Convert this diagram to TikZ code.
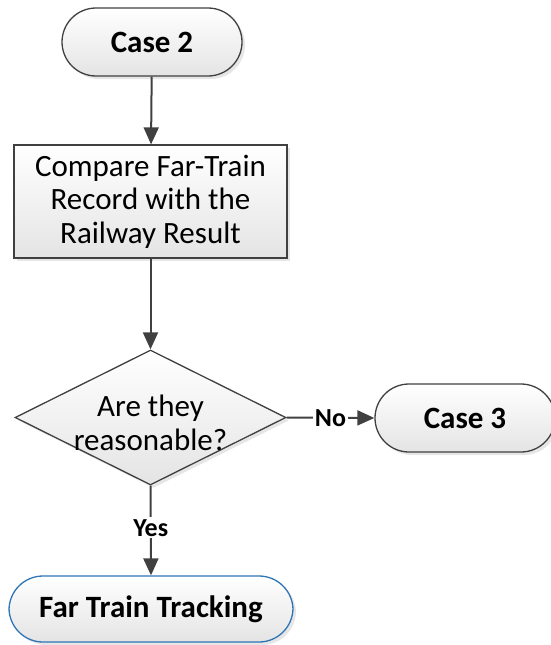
\documentclass[tikz,border=0pt]{standalone}
\usepackage{fontspec}
\setmainfont{Carlito}
\usetikzlibrary{shapes.geometric,arrows.meta,shadows}

\definecolor{edgegray}{RGB}{64,64,64}
\definecolor{fillgray}{RGB}{228,228,228}
\definecolor{termblue}{RGB}{46,117,182}

\tikzset{
  shade/.style={top color=white, bottom color=fillgray,
    drop shadow={opacity=0.2, shadow xshift=3pt, shadow yshift=-3pt}},
  terminal/.style={shade, draw=edgegray, line width=1.3pt, rounded corners=34pt,
    minimum width=180pt, minimum height=68pt, inner sep=0pt,
    font=\fontsize{31}{34}\selectfont\bfseries},
  process/.style={shade, draw=edgegray, line width=1.3pt,
    minimum width=273pt, minimum height=113pt, inner sep=0pt, align=center,
    font=\fontsize{31}{33.5}\selectfont},
  decision/.style={shade, draw=edgegray, line width=1.3pt, diamond,
    minimum width=271pt, minimum height=135pt, inner sep=0pt},
  plain/.style={align=center, inner sep=0pt, font=\fontsize{31}{34}\selectfont},
  flow/.style={draw=edgegray, line width=2pt,
    -{Triangle[length=17pt,width=15pt]}},
  branch/.style={fill=white, inner sep=2pt, font=\fontsize{26}{28}\selectfont\bfseries}
}

\begin{document}
\begin{tikzpicture}[x=1pt,y=-1pt]
  \useasboundingbox (0,0) rectangle (551,645);
  \clip (0,0) rectangle (551,645);

  % start / end terminals
  \node[terminal] (c2) at (152,42) {Case 2};
  \node[process] (cmp) at (150.5,201.5) {Compare Far-Train\\Record with the\\Railway Result};
  \node[decision] (dq) at (150.5,417.5) {};
  \node[plain] (dqt) at (150.5,423) {Are they\\reasonable?};
  \node[terminal] (c3) at (465,418) {Case 3};
  \node[terminal, draw=termblue, minimum width=284pt, minimum height=66pt]
    (ftt) at (151,609) {Far Train Tracking};

  % connectors
  \draw[flow] (c2) -- (cmp);
  \draw[flow] (cmp) -- (dq);
  \draw[flow] (dq.east) -- node[branch] (no) {No} (c3.west);
  \draw[flow] (dq.south) -- node[branch, pos=0.47] (yes) {Yes} (ftt.north);
\end{tikzpicture}
\end{document}
